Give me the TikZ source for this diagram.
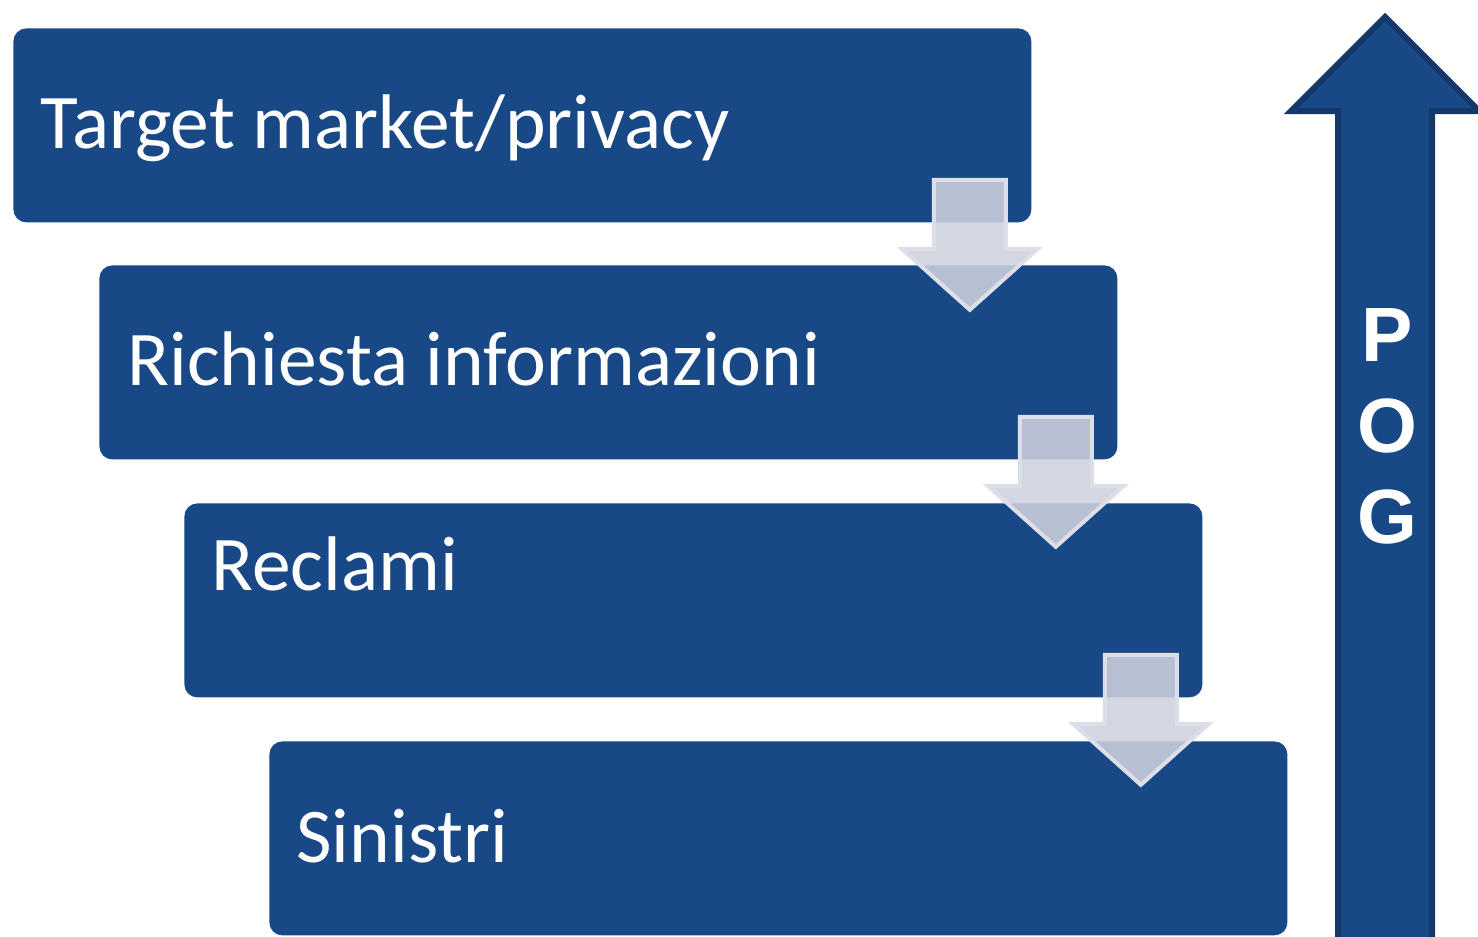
\documentclass[tikz,border=0pt]{standalone}
\usepackage{fontspec}
\setmainfont{Carlito}
\newfontfamily\pogfont{Liberation Sans}
\usetikzlibrary{positioning}
\definecolor{boxblue}{RGB}{25,72,134}
\definecolor{arrowedge}{RGB}{20,56,106}
\definecolor{chevgray}{RGB}{205,209,221}
\definecolor{chevedge}{RGB}{220,223,232}
\def\stepdown(#1)% Syntax: (box whose lower right corner carries the arrow)
    { \begin{scope}[shift={(#1.south east)}]
        \draw[chevron] (-98,-43) -- (-26,-43) -- (-26,26) -- (6,26) -- (-62,87)
              -- (-130,26) -- (-98,26) -- cycle;
      \end{scope} }

\tikzset{
  stepbox/.style={fill=boxblue, rounded corners=6.5pt, minimum width=509pt,
                  minimum height=97pt, inner sep=0pt, anchor=north west},
  steptext/.style={text=white, font=\fontsize{38.7}{40}\selectfont,
                   anchor=base west, inner sep=0pt},
  chevron/.style={fill=chevgray, draw=chevedge, line width=2pt, fill opacity=0.88},
}

\begin{document}
\begin{tikzpicture}[x=0.5pt,y=-0.5pt]
   \useasboundingbox (0,0) rectangle (1478,937);

   % the four steps
   \node[stepbox] (target) at (13,28) {};
   \node[stepbox] (richiesta) at (99,265) {};
   \node[stepbox] (reclami) at (184,503) {};
   \node[stepbox] (sinistri) at (269,741) {};

   \node[steptext] (ttarget) at (40,148) {Target market/privacy};
   \node[steptext] (trichiesta) at (127,385) {Richiesta informazioni};
   \node[steptext] (treclami) at (211,590) {Reclami};
   \node[steptext] (tsinistri) at (296,862) {Sinistri};

   % arrows from one step to the next
   \stepdown(target)
   \stepdown(richiesta)
   \stepdown(reclami)

   % POG arrow
   \draw[fill=boxblue, draw=arrowedge, line width=3pt, miter limit=10]
     (1338,945) -- (1338,111) -- (1291,111) -- (1385,17) -- (1479,111)
     -- (1432,111) -- (1432,945);
   \node[text=white, font=\pogfont\bfseries\fontsize{38.5}{45.5}\selectfont,
         align=center, inner sep=0pt] (pog) at (1387,426) {P\\O\\G};
\end{tikzpicture}
\end{document}
